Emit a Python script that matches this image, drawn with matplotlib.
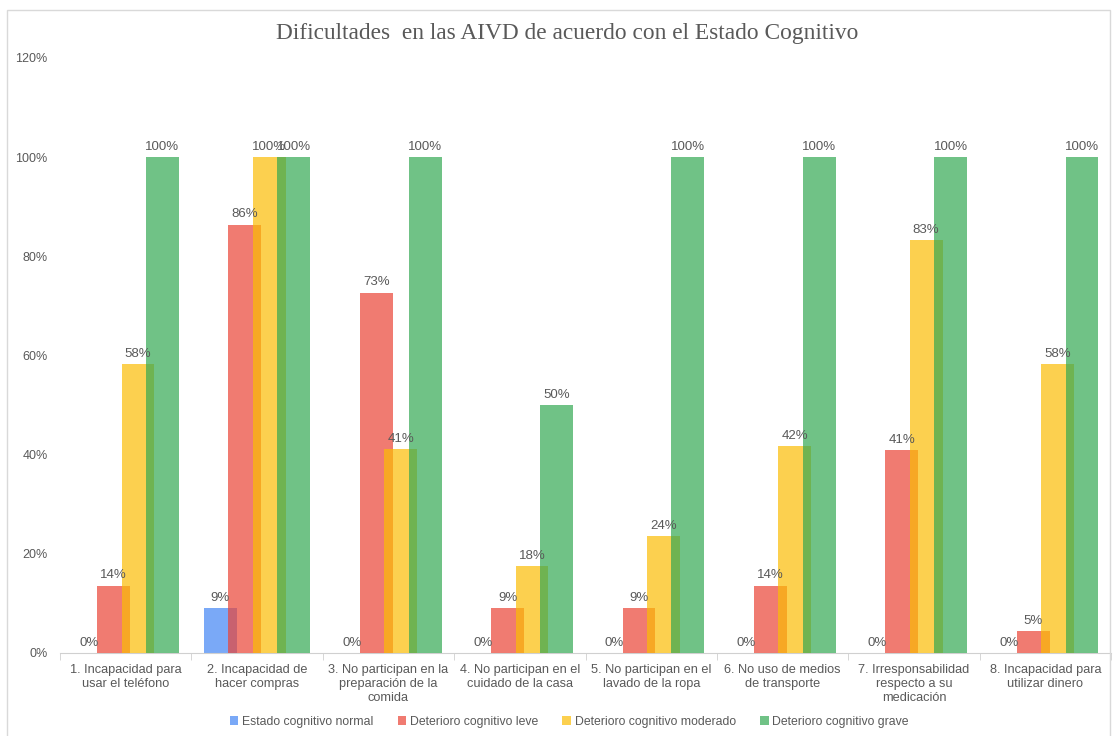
import numpy as np
import matplotlib.pyplot as plt
from matplotlib.patches import Rectangle

# Datos (porcentajes)
categorias = ['1. Incapacidad para\nusar el teléfono',
              '2. Incapacidad de\nhacer compras',
              '3. No participan en la\npreparación de la\ncomida',
              '4. No participan en el\ncuidado de la casa',
              '5. No participan en el\nlavado de la ropa',
              '6. No uso de medios\nde transporte',
              '7. Irresponsabilidad\nrespecto a su\nmedicación',
              '8. Incapacidad para\nutilizar dinero']
normal = [0, 9.1, 0, 0, 0, 0, 0, 0]
leve = [13.6, 86.4, 72.7, 9.1, 9.1, 13.6, 40.9, 4.5]
moderado = [58.3, 100, 41.2, 17.6, 23.5, 41.7, 83.3, 58.3]
grave = [100, 100, 100, 50, 100, 100, 100, 100]
series = ['Estado cognitivo normal', 'Deterioro cognitivo leve',
          'Deterioro cognitivo moderado', 'Deterioro cognitivo grave']
colores = ['#4285f4', '#ea4335', '#fbbc04', '#34a853']

txt = '#595959'
plt.rcParams['font.family'] = ['Liberation Sans', 'DejaVu Sans']

fig = plt.figure(figsize=(11.14, 7.36), dpi=100)
ax = fig.add_axes([0.0539, 0.1128, 0.9434, 0.8084])

x = np.arange(len(categorias))
ancho = 0.25
paso = 0.186
for k, (vals, nom, col) in enumerate(zip([normal, leve, moderado, grave], series, colores)):
    pos = x + (k - 1.5) * paso
    ax.bar(pos, vals, width=ancho, color=col, alpha=0.7, label=nom, zorder=2 + k)
    for p, v in zip(pos, vals):
        ax.annotate('{:d}%'.format(int(np.floor(v + 0.5))), (p, v), xytext=(0, 3),
                    textcoords='offset points', ha='center', va='bottom',
                    fontsize=9.5, color=txt, zorder=10)

ax.set_xlim(-0.5, 7.5)
ax.set_ylim(0, 120)
ax.set_yticks(np.arange(0, 121, 20))
ax.set_yticklabels(['{}%'.format(v) for v in range(0, 121, 20)], fontsize=9, color=txt)
ax.tick_params(axis='y', length=0, pad=9)
ax.set_xticks(x)
ax.set_xticklabels(categorias, fontsize=9.2, color=txt, linespacing=1.2)
ax.tick_params(axis='x', which='major', length=0, pad=8)
ax.set_xticks(np.arange(-0.5, 8, 1), minor=True)
ax.tick_params(axis='x', which='minor', length=5, color='#d0d0d0')
for s in ['top', 'right', 'left']:
    ax.spines[s].set_visible(False)
ax.spines['bottom'].set_color('#d0d0d0')

fig.text(0.509, 0.955, 'Dificultades  en las AIVD de acuerdo con el Estado Cognitivo',
         ha='center', va='center', fontsize=16.8, color=txt, family='Liberation Serif')

fig.legend(loc='center', bbox_to_anchor=(0.511, 0.019), ncol=4, frameon=False,
           fontsize=8.8, handlelength=0.7, handleheight=0.7, handletextpad=0.3,
           columnspacing=2.0, labelcolor=txt)

fig.patches.append(Rectangle((0.006, -0.01), 0.99, 0.996, transform=fig.transFigure,
                             fill=False, edgecolor='#d9d9d9', linewidth=1))

fig.savefig('out.png', dpi=100)
